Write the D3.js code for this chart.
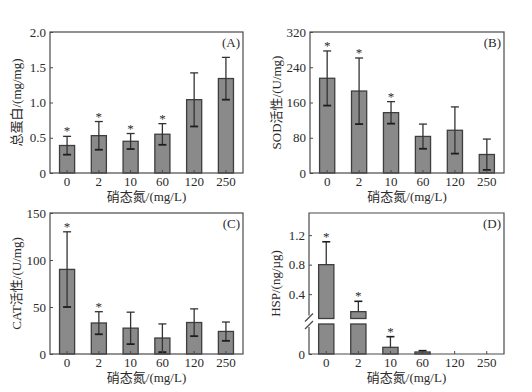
<!DOCTYPE html>
<html>
<head>
<meta charset="utf-8">
<script src="https://cdn.jsdelivr.net/npm/d3@7"></script>
<style>
  body { margin: 0; background: #fff; }
  svg text { font-family: "Liberation Serif", "Noto Sans CJK SC", serif; fill: #2b2b2b; }
</style>
</head>
<body>
<script>
// nitrate concentration groups (mg/L)
const categories = ["0", "2", "10", "60", "120", "250"];

// (A) total protein, mg/mg
const proteinMean = [0.39, 0.53, 0.45, 0.55, 1.04, 1.34];
const proteinSd   = [0.13, 0.20, 0.11, 0.15, 0.38, 0.30];
const proteinStar = [1, 1, 1, 1, 0, 0];
const proteinTicks = [0, 0.5, 1.0, 1.5, 2.0];

// (B) SOD activity, U/mg
const sodMean = [215, 186, 137, 83, 97, 42];
const sodSd   = [62, 75, 25, 28, 53, 35];
const sodStar = [1, 1, 1, 0, 0, 0];
const sodTicks = [0, 80, 160, 240, 320];

// (C) CAT activity, U/mg
const catMean = [90, 33, 27.5, 17, 33.5, 24];
const catSd   = [40, 12, 17, 15, 14.5, 10];
const catStar = [1, 1, 0, 0, 0, 0];
const catTicks = [0, 50, 100, 150];

// (D) HSP, ng/ug (broken axis)
const hspMean = [0.80, 0.163, 0.010, 0.003, 0, 0];
const hspSd   = [0.31, 0.14, 0.016, 0.002, 0, 0];
const hspStar = [1, 1, 1, 0, 0, 0];
const hspTicksUpper = [0.4, 0.8, 1.2];
const hspTicksLower = [0];

const xTitle = "硝态氮/(mg/L)";

const W = 532, H = 392;
const svg = d3.select("body").append("svg").attr("width", W).attr("height", H);

const barFill = "#8a8a8a", barStroke = "#3e3e3e", errColor = "#333", frameColor = "#4a4a4a", textColor = "#2b2b2b";
const capHalf = 4;

function frameAndX(g, p, x) {
  g.append("g")
    .attr("transform", `translate(0,${p.y1})`)
    .call(d3.axisBottom(x).tickSizeInner(-3).tickSizeOuter(0).tickPadding(4))
    .call(a => a.select(".domain").remove())
    .call(a => a.selectAll("line").attr("stroke", frameColor))
    .call(a => a.selectAll("text").attr("font-size", 13).attr("fill", textColor)
      .style("font-family", '"Liberation Serif", serif'));

  g.append("text")
    .attr("x", (p.x0 + p.x1) / 2).attr("y", p.y1 + 28)
    .attr("text-anchor", "middle").attr("font-size", 13).attr("fill", textColor)
    .text(xTitle);

  g.append("text")
    .attr("transform", `translate(${p.x0 - 29},${(p.y0 + p.y1) / 2}) rotate(-90)`)
    .attr("text-anchor", "middle").attr("font-size", 13).attr("fill", textColor)
    .text(p.yTitle);

  g.append("text")
    .attr("x", p.x1 - 3).attr("y", p.y0 + 15)
    .attr("text-anchor", "end").attr("font-size", 13).attr("fill", textColor)
    .text(p.tag);
}

function yAxis(g, x0, scale, ticks, fmt) {
  g.append("g")
    .attr("transform", `translate(${x0},0)`)
    .call(d3.axisLeft(scale).tickValues(ticks).tickFormat(fmt).tickSizeInner(-3).tickSizeOuter(0).tickPadding(4))
    .call(a => a.select(".domain").remove())
    .call(a => a.selectAll("line").attr("stroke", frameColor))
    .call(a => a.selectAll("text").attr("font-size", 13).attr("fill", textColor)
      .style("font-family", '"Liberation Serif", serif'));
}

function star(g, cx, y) {
  g.append("text").attr("x", cx).attr("y", y)
    .attr("text-anchor", "middle").attr("font-size", 13).attr("fill", textColor)
    .style("font-family", '"Liberation Serif", serif')
    .text("*");
}

function drawPanel(p) {
  const g = svg.append("g");
  const x = d3.scaleBand().domain(categories).range([p.x0, p.x1]).paddingInner(0.525).paddingOuter(0.3);
  const y = d3.scaleLinear().domain([0, p.max]).range([p.y1, p.y0]);
  const rows = categories.map((c, i) => ({ c, m: p.mean[i], sd: p.sd[i], star: p.star[i] }));

  g.selectAll(".bar").data(rows).join("rect")
    .attr("x", d => x(d.c)).attr("width", x.bandwidth())
    .attr("y", d => y(d.m)).attr("height", d => y(0) - y(d.m))
    .attr("fill", barFill).attr("stroke", barStroke).attr("stroke-width", 1.3);

  const eb = g.selectAll(".err").data(rows).join("g").attr("stroke", errColor).attr("stroke-width", 1.3);
  eb.append("line")
    .attr("x1", d => x(d.c) + x.bandwidth() / 2).attr("x2", d => x(d.c) + x.bandwidth() / 2)
    .attr("y1", d => y(d.m - d.sd)).attr("y2", d => y(d.m + d.sd));
  eb.append("line")
    .attr("x1", d => x(d.c) + x.bandwidth() / 2 - capHalf).attr("x2", d => x(d.c) + x.bandwidth() / 2 + capHalf)
    .attr("y1", d => y(d.m + d.sd)).attr("y2", d => y(d.m + d.sd));
  eb.append("line")
    .attr("x1", d => x(d.c) + x.bandwidth() / 2 - capHalf).attr("x2", d => x(d.c) + x.bandwidth() / 2 + capHalf)
    .attr("y1", d => y(d.m - d.sd)).attr("y2", d => y(d.m - d.sd))
    .attr("stroke", "#1e1e1e").attr("stroke-width", 1.8);

  rows.filter(d => d.star).forEach(d => star(g, x(d.c) + x.bandwidth() / 2, y(d.m + d.sd) - 1));

  yAxis(g, p.x0, y, p.ticks, p.fmt);

  g.append("rect")
    .attr("x", p.x0).attr("y", p.y0).attr("width", p.x1 - p.x0).attr("height", p.y1 - p.y0)
    .attr("fill", "none").attr("stroke", frameColor).attr("stroke-width", 1.2);

  frameAndX(g, p, x);
}

function drawBroken(p) {
  const g = svg.append("g");
  const x = d3.scaleBand().domain(categories).range([p.x0, p.x1]).paddingInner(0.525).paddingOuter(0.3);
  const lowMax = 0.045, upMin = 0.07;
  const breakLo = 324, breakHi = 318.5;
  const yLow = d3.scaleLinear().domain([0, lowMax]).range([p.y1, breakLo]);
  const yUp = d3.scaleLinear().domain([upMin, 1.5]).range([breakHi, p.y0]);
  const yAny = v => v <= lowMax ? yLow(v) : yUp(v);
  const rows = categories.map((c, i) => ({ c, m: hspMean[i], sd: hspSd[i], star: hspStar[i] })).filter(d => d.m > 0);

  rows.forEach(d => {
    const bx = x(d.c), bw = x.bandwidth(), cx = bx + bw / 2;
    if (d.m <= lowMax) {
      g.append("rect").attr("x", bx).attr("width", bw).attr("y", yLow(d.m)).attr("height", p.y1 - yLow(d.m))
        .attr("fill", barFill).attr("stroke", barStroke).attr("stroke-width", 1.3);
    } else {
      g.append("rect").attr("x", bx).attr("width", bw).attr("y", breakLo).attr("height", p.y1 - breakLo)
        .attr("fill", barFill).attr("stroke", barStroke).attr("stroke-width", 1.3);
      g.append("rect").attr("x", bx).attr("width", bw).attr("y", yUp(d.m)).attr("height", breakHi - yUp(d.m))
        .attr("fill", barFill).attr("stroke", barStroke).attr("stroke-width", 1.3);
    }
    const top = yAny(d.m + d.sd);
    g.append("line").attr("x1", cx).attr("x2", cx).attr("y1", yAny(d.m)).attr("y2", top)
      .attr("stroke", errColor).attr("stroke-width", 1.3);
    g.append("line").attr("x1", cx - capHalf).attr("x2", cx + capHalf).attr("y1", top).attr("y2", top)
      .attr("stroke", "#1e1e1e").attr("stroke-width", 1.6);
    if (d.star) star(g, cx, top - 1);
  });

  yAxis(g, p.x0, yUp, hspTicksUpper, d3.format(".1f"));
  yAxis(g, p.x0, yLow, hspTicksLower, d3.format("d"));

  // frame with a gap on the left axis
  const fr = g.append("g").attr("stroke", frameColor).attr("stroke-width", 1.2).attr("fill", "none");
  fr.append("path").attr("d", `M${p.x0},${breakHi - 3}V${p.y0}H${p.x1}V${p.y1}H${p.x0}V${breakLo + 3}`);
  [breakHi - 1, breakLo + 1].forEach(yb => {
    fr.append("line").attr("x1", p.x0 - 4).attr("x2", p.x0 + 4).attr("y1", yb + 4).attr("y2", yb - 4);
  });

  frameAndX(g, p, x);
}

drawPanel({ x0: 50, x1: 243, y0: 32, y1: 173, max: 2.0, mean: proteinMean, sd: proteinSd, star: proteinStar,
  ticks: proteinTicks, fmt: v => v === 0 ? "0" : d3.format(".1f")(v), yTitle: "总蛋白/(mg/mg)", tag: "(A)" });
drawPanel({ x0: 310, x1: 504, y0: 32, y1: 173, max: 320, mean: sodMean, sd: sodSd, star: sodStar,
  ticks: sodTicks, fmt: d3.format("d"), yTitle: "SOD活性/(U/mg)", tag: "(B)" });
drawPanel({ x0: 50, x1: 243, y0: 213, y1: 354, max: 150, mean: catMean, sd: catSd, star: catStar,
  ticks: catTicks, fmt: d3.format("d"), yTitle: "CAT活性/(U/mg)", tag: "(C)" });
drawBroken({ x0: 309, x1: 504, y0: 213, y1: 354, yTitle: "HSP/(ng/µg)", tag: "(D)" });
</script>
</body>
</html>
